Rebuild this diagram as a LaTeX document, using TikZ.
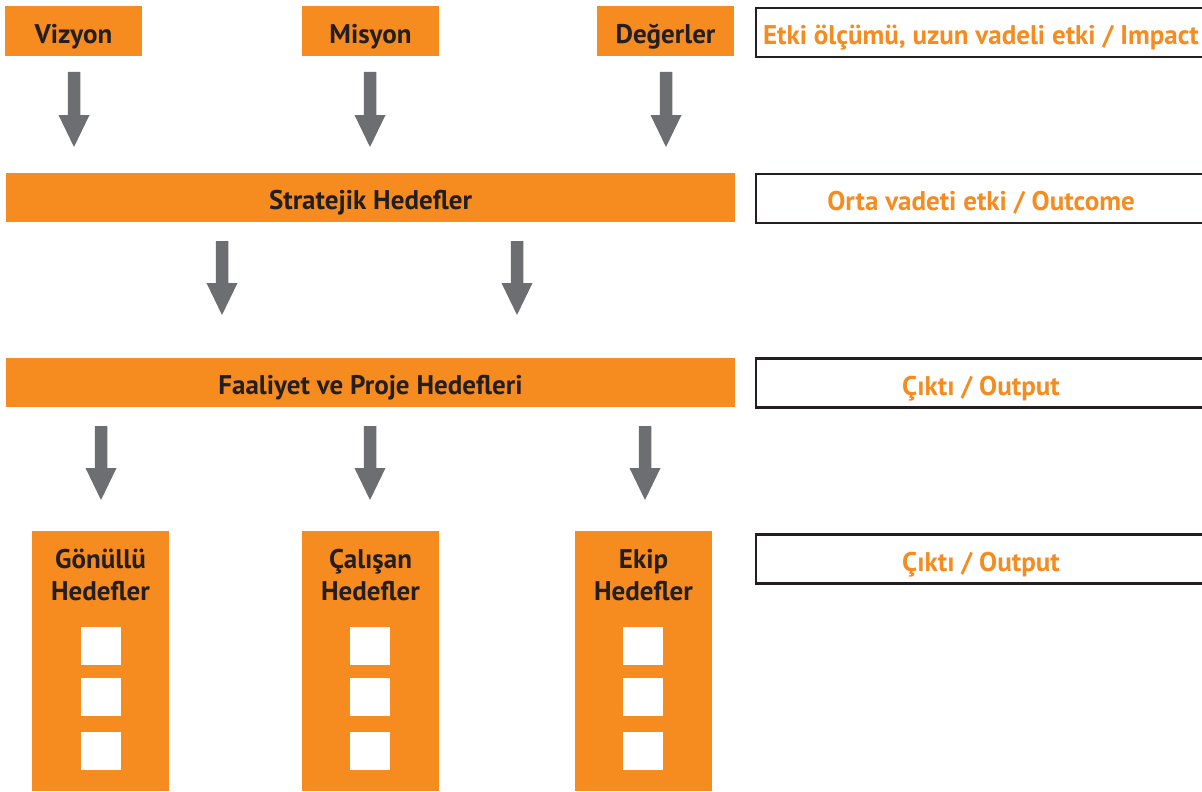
\documentclass[tikz,border=0pt]{standalone}
\usepackage{fontspec}
\setmainfont{PT Sans}
\usetikzlibrary{calc}
\definecolor{brandorange}{HTML}{F68B1F}
\definecolor{arrowgray}{HTML}{6D6E71}
\definecolor{inkdark}{HTML}{231F20}
\newcommand\fatarrow[2]{%
  \fill[arrowgray] let \p1=(#1), \p2=(#2) in
    (\x1-6.25pt,\y1) -- (\x1+6.25pt,\y1) -- (\x1+6.25pt,\y2+32pt) --
    (\x1+15.5pt,\y2+32pt) -- (\x1,\y2) -- (\x1-15.5pt,\y2+32pt) --
    (\x1-6.25pt,\y2+32pt) -- cycle;}
\begin{document}
\begin{tikzpicture}[x=1pt,y=-1pt,
  every node/.style={font=\bfseries\fontsize{27}{32}\selectfont, inner sep=0pt, text height=25pt, text depth=1pt},
  obox/.style={fill=brandorange, text=inkdark, minimum height=50pt},
  wbox/.style={draw=inkdark, line width=2.7pt, fill=white, text=brandorange, minimum height=49pt, minimum width=450pt},
  col/.style={fill=brandorange, minimum width=137pt, minimum height=260pt},
  coltext/.style={text=inkdark, anchor=base, text height=, text depth=},
  sq/.style={fill=white, minimum width=40pt, minimum height=38pt, text height=, text depth=}
]
\useasboundingbox (0,0) rectangle (1202,792);
\fill[white] (0,0) rectangle (1202,792);

% top row
\node[obox, minimum width=137pt] (viz) at (73.5,31.5) {Vizyon};
\node[obox, minimum width=137pt] (mis) at (370.5,31.5) {Misyon};
\node[obox, minimum width=137pt] (deg) at (665.5,31.5) {Değerler};

% bars
\node[obox, minimum width=729pt, minimum height=49pt] (strat) at (370.5,197.5) {Stratejik Hedefler};
\node[obox, minimum width=729pt, minimum height=49pt] (faal) at (370.5,382.5) {Faaliyet ve Proje Hedefleri};

% right boxes
\node[wbox] (imp) at (981,32.5) {Etki ölçümü, uzun vadeli etki / Impact};
\node[wbox] (out) at (981,198.5) {Orta vadeti etki / Outcome};
\node[wbox] (cik1) at (981,383) {Çıktı / Output};
\node[wbox] (cik2) at (981,559) {Çıktı / Output};

% bottom columns
\node[col] (gon) at (100.5,661) {};
\node[col] (cal) at (370.5,661) {};
\node[col] (ekp) at (643.5,661) {};
\node[coltext] (gont1) at (100.5,568) {Gönüllü};
\node[coltext] (gont2) at (100.5,600) {Hedefler};
\node[coltext] (calt1) at (370.5,568) {Çalışan};
\node[coltext] (calt2) at (370.5,600) {Hedefler};
\node[coltext] (ekpt1) at (643.5,568) {Ekip};
\node[coltext] (ekpt2) at (643.5,600) {Hedefler};
\foreach \cx/\nm in {101/g,370/c,643/e}{
  \node[sq] (\nm1) at (\cx,646) {};
  \node[sq] (\nm2) at (\cx,697) {};
  \node[sq] (\nm3) at (\cx,751) {};
}

% arrows
\coordinate (a1s) at (74,72);  \coordinate (a1e) at (74,147);
\coordinate (a2s) at (370,72); \coordinate (a2e) at (370,147);
\coordinate (a3s) at (666,72); \coordinate (a3e) at (666,147);
\coordinate (b1s) at (222,241); \coordinate (b1e) at (222,315);
\coordinate (b2s) at (517,241); \coordinate (b2e) at (517,315);
\coordinate (c1s) at (101,426); \coordinate (c1e) at (101,500);
\coordinate (c2s) at (370,426); \coordinate (c2e) at (370,500);
\coordinate (c3s) at (645,426); \coordinate (c3e) at (645,500);
\fatarrow{a1s}{a1e}\fatarrow{a2s}{a2e}\fatarrow{a3s}{a3e}
\fatarrow{b1s}{b1e}\fatarrow{b2s}{b2e}
\fatarrow{c1s}{c1e}\fatarrow{c2s}{c2e}\fatarrow{c3s}{c3e}
\end{tikzpicture}
\end{document}
